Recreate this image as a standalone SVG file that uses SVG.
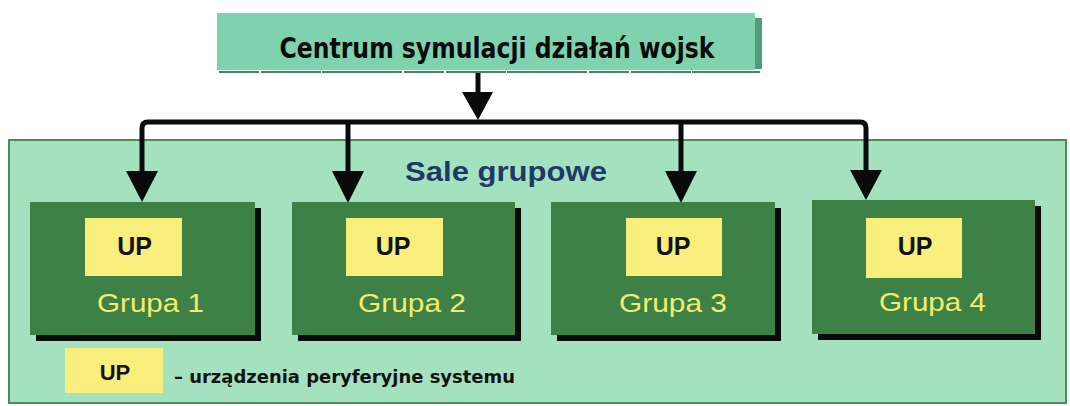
<svg xmlns="http://www.w3.org/2000/svg" width="1070" height="406" viewBox="0 0 1070 406">
  <defs>
    <style>
      .grp { fill: #3d8146; }
      .shadow { fill: #0a0a0a; }
      .up { fill: #f8ee7c; }
      .uptxt { font-family: "Liberation Sans", Arial, sans-serif; font-weight: bold; font-size: 25px; fill: #111; text-anchor: middle; }
      .gtxt { font-family: "Liberation Sans", Arial, sans-serif; font-size: 26px; fill: #f3ec6c; text-anchor: middle; }
      .conn { stroke: #0a0a0a; stroke-width: 5; fill: none; stroke-linejoin: round; }
      .head { fill: #0a0a0a; }
    </style>
  </defs>
  <rect width="1070" height="406" fill="#ffffff"/>

  <!-- Container "Sale grupowe" -->
  <g id="sale-grupowe">
    <rect x="9" y="140" width="1057" height="263" fill="#a3e1bf" stroke="#4b8c58" stroke-width="2"/>
    <text x="506" y="181" font-family="Liberation Sans, Arial, sans-serif" font-weight="bold" font-size="27" fill="#1d3a66" text-anchor="middle" textLength="202" lengthAdjust="spacingAndGlyphs">Sale grupowe</text>
  </g>

  <!-- Top node -->
  <g id="centrum">
    <rect x="755" y="18" width="7" height="51" fill="#4f9c78"/>
    <rect x="217" y="13" width="538" height="57" fill="#7fd2ae"/>
    <line x1="219" y1="72" x2="760" y2="72" stroke="#3f8a66" stroke-width="2" stroke-dasharray="40 2 60 1 80 2"/>
    <text x="497" y="58" font-family="DejaVu Sans, Verdana, sans-serif" font-weight="bold" font-size="29" fill="#0a0a0a" text-anchor="middle" textLength="435" lengthAdjust="spacingAndGlyphs">Centrum symulacji działań wojsk</text>
  </g>

  <!-- Connectors -->
  <g id="connectors">
    <line class="conn" x1="478" y1="73" x2="478" y2="93"/>
    <polygon class="head" points="462,92 493,92 478,120"/>
    <path class="conn" d="M142,173 V128 Q142,122 148,122 H860 Q866,122 866,128 V173"/>
    <line class="conn" x1="348" y1="122" x2="348" y2="173"/>
    <line class="conn" x1="681" y1="122" x2="681" y2="173"/>
    <polygon class="head" points="126,171 158,171 142,202"/>
    <polygon class="head" points="332,171 364,171 348,203"/>
    <polygon class="head" points="665,171 697,171 681,203"/>
    <polygon class="head" points="850,170 882,170 866,200"/>
  </g>

  <!-- Groups -->
  <g id="grupa-1">
    <rect class="shadow" x="36" y="208" width="225" height="133"/>
    <rect class="grp" x="30" y="202" width="225" height="133"/>
    <rect class="up" x="85" y="218" width="97" height="58"/>
    <text class="uptxt" x="134.5" y="255">UP</text>
    <text class="gtxt" x="150.5" y="312" textLength="107" lengthAdjust="spacingAndGlyphs">Grupa 1</text>
  </g>
  <g id="grupa-2">
    <rect class="shadow" x="298" y="208" width="223" height="133"/>
    <rect class="grp" x="292" y="202" width="223" height="133"/>
    <rect class="up" x="346" y="218" width="97" height="58"/>
    <text class="uptxt" x="393" y="255">UP</text>
    <text class="gtxt" x="412" y="312" textLength="108" lengthAdjust="spacingAndGlyphs">Grupa 2</text>
  </g>
  <g id="grupa-3">
    <rect class="shadow" x="557" y="208" width="224" height="133"/>
    <rect class="grp" x="551" y="202" width="224" height="133"/>
    <rect class="up" x="626" y="218" width="96" height="58"/>
    <text class="uptxt" x="673" y="255">UP</text>
    <text class="gtxt" x="673" y="312" textLength="108" lengthAdjust="spacingAndGlyphs">Grupa 3</text>
  </g>
  <g id="grupa-4">
    <rect class="shadow" x="818" y="206" width="223" height="134"/>
    <rect class="grp" x="812" y="200" width="223" height="134"/>
    <rect class="up" x="866" y="218" width="96" height="60"/>
    <text class="uptxt" x="915" y="255">UP</text>
    <text class="gtxt" x="932.5" y="311" textLength="107" lengthAdjust="spacingAndGlyphs">Grupa 4</text>
  </g>

  <!-- Legend -->
  <g id="legenda">
    <rect class="up" x="65" y="348" width="98" height="45"/>
    <text x="115" y="380" font-family="Liberation Sans, Arial, sans-serif" font-weight="bold" font-size="22" fill="#111" text-anchor="middle">UP</text>
    <text x="174" y="383" font-family="DejaVu Sans, sans-serif" font-weight="bold" font-size="18" fill="#111" textLength="341" lengthAdjust="spacingAndGlyphs">– urządzenia peryferyjne systemu</text>
  </g>
</svg>
